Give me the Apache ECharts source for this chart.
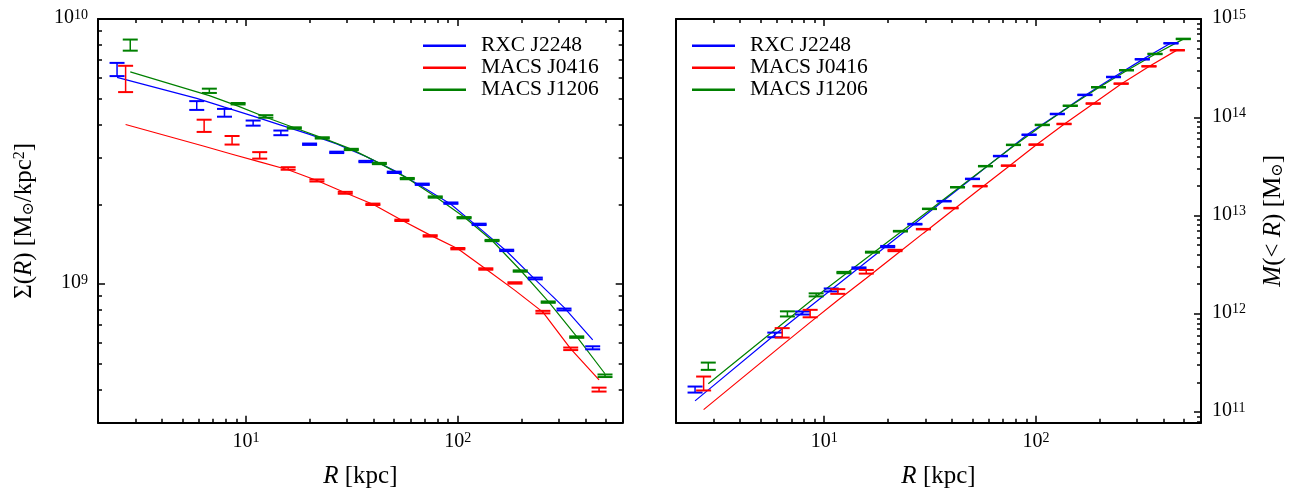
<!DOCTYPE html>
<html><head><meta charset="utf-8">
<script src="https://cdn.jsdelivr.net/npm/echarts@6/dist/echarts.min.js"></script>
<style>html,body{margin:0;padding:0;background:#fff}#c{width:1306px;height:489px}</style>
</head><body><div id="c"></div>
<script>
// ---------------- data ----------------
const clusterNames = ['RXC J2248', 'MACS J0416', 'MACS J1206'];
const clusterColors = ['#0000ff', '#ff0000', '#008000'];

// radii [kpc]
const radiusBlue  = [2.46, 5.85, 7.91, 10.8, 14.6, 19.95, 26.8, 36.8, 50.1, 67.9, 92.7, 126, 170, 232, 317, 433];
const radiusRed   = [2.70, 6.34, 8.59, 11.6, 15.8, 21.6, 29.4, 39.7, 54.4, 74.0, 100, 135.5, 186, 252, 341, 464];
const radiusGreen = [2.84, 6.71, 9.17, 12.4, 16.9, 22.9, 31.4, 42.6, 57.7, 78.2, 107, 145, 197, 267, 364, 495];

// surface density Sigma(R) [Msun/kpc^2]
const sigmaBlue      = [6.46e9, 4.72e9, 4.43e9, 4.05e9, 3.72e9, 3.37e9, 3.14e9, 2.90e9, 2.64e9, 2.38e9, 2.02e9, 1.68e9, 1.34e9, 1.05e9, 8.02e8, 5.75e8];
const sigmaBlueErr   = [3.7e8, 1.8e8, 1.5e8, 9e7, 7.5e7, 2e7, 1.9e7, 1.7e7, 1.6e7, 1.4e7, 1.2e7, 1e7, 8e6, 8e6, 6.5e6, 7.5e6];
const sigmaBlueModel = [6.02e9, 5.02e9, 4.65e9, 4.30e9, 3.98e9, 3.67e9, 3.38e9, 3.03e9, 2.68e9, 2.33e9, 2.00e9, 1.63e9, 1.33e9, 1.04e9, 8.17e8, 6.16e8];

const sigmaRed       = [5.98e9, 3.96e9, 3.49e9, 3.06e9, 2.73e9, 2.46e9, 2.21e9, 2.00e9, 1.74e9, 1.52e9, 1.36e9, 1.14e9, 1.01e9, 7.84e8, 5.70e8, 4.00e8];
const sigmaRedErr    = [6.8e8, 2.1e8, 1.3e8, 8.6e7, 3e7, 2.2e7, 1.8e7, 1.2e7, 1e7, 9e6, 8e6, 7e6, 6e6, 8.6e6, 6.3e6, 6.8e6];
const sigmaRedModel  = [4.00e9, 3.31e9, 3.09e9, 2.89e9, 2.70e9, 2.46e9, 2.21e9, 2.00e9, 1.74e9, 1.53e9, 1.36e9, 1.14e9, 9.47e8, 7.84e8, 5.70e8, 4.35e8];

const sigmaGreen      = [7.98e9, 5.36e9, 4.79e9, 4.29e9, 3.88e9, 3.56e9, 3.22e9, 2.85e9, 2.50e9, 2.13e9, 1.78e9, 1.46e9, 1.12e9, 8.55e8, 6.31e8, 4.51e8];
const sigmaGreenErr   = [3.85e8, 1.0e8, 3e7, 4.7e7, 2.3e7, 2e7, 1.8e7, 1.6e7, 1.4e7, 1.2e7, 1e7, 8e6, 6.5e6, 5e6, 4e6, 5e6];
const sigmaGreenModel = [6.32e9, 5.14e9, 4.69e9, 4.26e9, 3.89e9, 3.56e9, 3.23e9, 2.86e9, 2.51e9, 2.14e9, 1.79e9, 1.46e9, 1.13e9, 8.60e8, 6.34e8, 4.59e8];

// enclosed mass M(<R) [Msun]
const massBlue      = [1.70e11, 6.11e11, 1.02e12, 1.75e12, 2.92e12, 4.83e12, 8.17e12, 1.40e13, 2.36e13, 4.03e13, 6.64e13, 1.08e14, 1.69e14, 2.57e14, 3.89e14, 5.66e14];
const massBlueErr   = [1.2e10, 3.3e10, 3.6e10, 6.1e10, 4.7e10, 7.7e10, 6.5e10, 8.4e10, 1.4e11, 2.4e11, 4.0e11, 6.5e11, 1.0e12, 1.5e12, 2.3e12, 3.4e12];
const massBlueModel = [1.30e11, 6.12e11, 1.03e12, 1.76e12, 2.94e12, 5.02e12, 8.31e12, 1.43e13, 2.41e13, 4.05e13, 6.87e13, 1.07e14, 1.67e14, 2.55e14, 3.86e14, 5.69e14];

const massRed       = [1.98e11, 6.44e11, 1.01e12, 1.69e12, 2.68e12, 4.41e12, 7.27e12, 1.19e13, 1.99e13, 3.22e13, 5.27e13, 8.55e13, 1.38e14, 2.20e14, 3.30e14, 4.81e14];
const massRedErr    = [3.2e10, 7.1e10, 8.8e10, 9.3e10, 1.15e11, 7e10, 4.4e10, 7.1e10, 1.2e11, 1.9e11, 3.2e11, 5.1e11, 8.3e11, 1.3e12, 2.0e12, 2.9e12];
const massRedModel  = [1.06e11, 4.80e11, 8.18e11, 1.375e12, 2.30e12, 3.92e12, 6.62e12, 1.10e13, 1.87e13, 3.14e13, 5.23e13, 8.50e13, 1.37e14, 2.18e14, 3.28e14, 4.85e14];

const massGreen      = [2.94e11, 1.00e12, 1.56e12, 2.63e12, 4.24e12, 6.93e12, 1.17e13, 1.94e13, 3.18e13, 5.24e13, 8.36e13, 1.31e14, 2.02e14, 3.01e14, 4.41e14, 6.27e14];
const massGreenErr   = [2.5e10, 6e10, 5.5e10, 4.2e10, 5e10, 5.5e10, 7e10, 1.2e11, 1.9e11, 3.1e11, 5.0e11, 7.9e11, 1.2e12, 1.8e12, 2.6e12, 3.8e12];
const massGreenModel = [1.94e11, 8.69e11, 1.50e12, 2.47e12, 4.10e12, 6.76e12, 1.13e13, 1.87e13, 3.08e13, 5.07e13, 8.30e13, 1.30e14, 2.00e14, 2.98e14, 4.38e14, 6.24e14];

// axis ranges and ticks
const radiusRange = [2, 600];
const sigmaRange = [3e8, 1.000001e10];
const massRange = [7.8e10, 1.000001e15];
const radiusMajorTicks = [10, 100];
const radiusMinorTicks = [3, 4, 5, 6, 7, 8, 9, 20, 30, 40, 50, 60, 70, 80, 90, 200, 300, 400, 500];
const sigmaMajorTicks = [1e9, 1e10];
const sigmaMinorTicks = [4e8, 5e8, 6e8, 7e8, 8e8, 9e8, 2e9, 3e9, 4e9, 5e9, 6e9, 7e9, 8e9, 9e9];
const massMajorTicks = [1e11, 1e12, 1e13, 1e14, 1e15];
const massMinorTicks = [8e10, 9e10,
  2e11, 3e11, 4e11, 5e11, 6e11, 7e11, 8e11, 9e11,
  2e12, 3e12, 4e12, 5e12, 6e12, 7e12, 8e12, 9e12,
  2e13, 3e13, 4e13, 5e13, 6e13, 7e13, 8e13, 9e13,
  2e14, 3e14, 4e14, 5e14, 6e14, 7e14, 8e14, 9e14];

// ---------------- chart ----------------
const FONT = "'Liberation Serif','DejaVu Serif',serif";
const BLACK = '#000';
const zip3 = (a, b, c) => a.map((v, i) => c ? [v, b[i], c[i]] : [v, b[i]]);

const tickRich = {
  b: { fontFamily: FONT, fontSize: 20, color: BLACK, lineHeight: 20, padding: [4, 0, 0, 0], verticalAlign: 'bottom' },
  s: { fontFamily: FONT, fontSize: 14, color: BLACK, lineHeight: 14, verticalAlign: 'top' }
};
const powLabel = v => '{b|10}{s|' + Math.round(Math.log10(v)) + '}';
const NS = 25;
const nameRich = {
  n: { fontFamily: FONT, fontSize: NS, color: BLACK, lineHeight: NS, padding: [4, 0, 4, 0] },
  i: { fontFamily: FONT, fontSize: NS, color: BLACK, fontStyle: 'italic', lineHeight: NS, padding: [4, 0, 4, 0] },
  sub: { fontFamily: FONT, fontSize: 16, color: BLACK, lineHeight: 16, verticalAlign: 'bottom' },
  sup: { fontFamily: FONT, fontSize: 16, color: BLACK, lineHeight: 16, verticalAlign: 'top' }
};

function axisSet(gridIndex, range, major, minor, cfg) {
  const base = {
    type: 'log', logBase: 10, gridIndex, min: range[0], max: range[1],
    splitLine: { show: false }, axisLine: { show: false },
    axisLabel: { show: false }, axisTick: { show: false }
  };
  const line = { show: true, lineStyle: { color: BLACK, width: 2 } };
  const majorTick = { show: true, inside: true, length: 7, customValues: major, lineStyle: { color: BLACK, width: 1.5 } };
  const minorTick = { show: true, inside: true, length: 4, customValues: minor, lineStyle: { color: BLACK, width: 1.5 } };
  const out = [];
  cfg.forEach(c => {
    if (c.lineOnly) {
      out.push(Object.assign({}, base, { position: c.pos, axisLine: line }));
      return;
    }
    const maj = Object.assign({}, base, { position: c.pos, axisLine: line, axisTick: majorTick });
    if (c.labels) {
      maj.axisLabel = Object.assign({ show: true, customValues: major, formatter: powLabel, rich: tickRich }, c.labels);
    }
    if (c.name) {
      Object.assign(maj, c.name);
    }
    out.push(maj);
    out.push(Object.assign({}, base, { position: c.pos, axisTick: minorTick }));
  });
  return out;
}

const xName = {
  name: '{i|R}{n| [kpc]}', nameLocation: 'middle', nameGap: 41,
  nameTextStyle: { rich: nameRich }
};
const xAxes = [].concat(
  axisSet(0, radiusRange, radiusMajorTicks, radiusMinorTicks, [
    { pos: 'bottom', labels: { margin: 9 }, name: xName },
    { pos: 'top' }
  ]),
  axisSet(1, radiusRange, radiusMajorTicks, radiusMinorTicks, [
    { pos: 'bottom', labels: { margin: 9 }, name: xName },
    { pos: 'top' }
  ])
);
// x indices: grid0 -> 0 (bottom major), grid1 -> 4 (bottom major)
const yAxes = [].concat(
  axisSet(0, sigmaRange, sigmaMajorTicks, sigmaMinorTicks, [
    { pos: 'left', labels: { margin: 10, padding: [0, 0, 2, 0] },
      name: { name: '{n|Σ(}{i|R}{n|) [M}{sub|⊙}{n|/kpc}{sup|2}{n|]}', nameLocation: 'middle', nameGap: 61, nameRotate: 90,
              nameTextStyle: { rich: nameRich } } },
    { pos: 'right' }
  ]),
  axisSet(1, massRange, massMajorTicks, massMinorTicks, [
    { pos: 'right', labels: { margin: 11, padding: [0, 0, 2, 0] },
      name: { name: '{i|M}{n|(< }{i|R}{n|) [M}{sub|⊙}{n|]}', nameLocation: 'middle', nameGap: 60, nameRotate: 90,
              nameTextStyle: { rich: nameRich } } },
    { pos: 'left', lineOnly: true }
  ])
);
// y indices: grid0 -> 0 (left major), grid1 -> 4 (right major)

function errorRenderer(color) {
  return function (params, api) {
    const x = api.value(0), y = api.value(1), e = api.value(2);
    const top = api.coord([x, y + e]);
    const bot = api.coord([x, y - e]);
    const hw = 7.5;
    return {
      type: 'group',
      children: [
        { type: 'line', shape: { x1: top[0], y1: top[1], x2: bot[0], y2: bot[1] }, style: { stroke: color, lineWidth: 1.5 } },
        { type: 'line', shape: { x1: top[0] - hw, y1: top[1], x2: top[0] + hw, y2: top[1] }, style: { stroke: color, lineWidth: 2 } },
        { type: 'line', shape: { x1: bot[0] - hw, y1: bot[1], x2: bot[0] + hw, y2: bot[1] }, style: { stroke: color, lineWidth: 2 } }
      ]
    };
  };
}

const panels = [
  { x: 0, y: 0, radii: [radiusBlue, radiusRed, radiusGreen],
    vals: [sigmaBlue, sigmaRed, sigmaGreen], errs: [sigmaBlueErr, sigmaRedErr, sigmaGreenErr],
    models: [sigmaBlueModel, sigmaRedModel, sigmaGreenModel] },
  { x: 4, y: 4, radii: [radiusBlue, radiusRed, radiusGreen],
    vals: [massBlue, massRed, massGreen], errs: [massBlueErr, massRedErr, massGreenErr],
    models: [massBlueModel, massRedModel, massGreenModel] }
];

const series = [];
panels.forEach((p, pi) => {
  for (let k = 0; k < 3; k++) {
    series.push({
      name: clusterNames[k], type: 'line', xAxisIndex: p.x, yAxisIndex: p.y,
      data: zip3(p.radii[k], p.models[k]), showSymbol: false, symbol: 'none',
      lineStyle: { color: clusterColors[k], width: 1.2 }, itemStyle: { color: clusterColors[k] },
      z: 2, silent: true
    });
    series.push({
      name: clusterNames[k] + ' data ' + pi, type: 'custom', xAxisIndex: p.x, yAxisIndex: p.y,
      data: zip3(p.radii[k], p.vals[k], p.errs[k]), encode: { x: 0, y: 1 },
      renderItem: errorRenderer(clusterColors[k]), z: 3, silent: true
    });
  }
});

const legendBase = {
  orient: 'vertical', data: clusterNames, icon: 'rect', itemWidth: 43, itemHeight: 2.6,
  itemGap: 0, padding: 0, selectedMode: false, top: 34.7,
  itemStyle: { borderWidth: 0 },
  textStyle: { fontFamily: FONT, fontSize: 21.5, color: BLACK, lineHeight: 22, padding: [0, 0, 0, 10] }
};

const chart = echarts.init(document.getElementById('c'), null, { renderer: 'canvas' });
chart.setOption({
  animation: false,
  backgroundColor: '#fff',
  grid: [
    { left: 98, top: 19, width: 524.7, height: 403.7, containLabel: false, outerBoundsMode: 'none' },
    { left: 676, top: 19, width: 525, height: 403.7, containLabel: false, outerBoundsMode: 'none' }
  ],
  legend: [
    Object.assign({}, legendBase, { left: 423 }),
    Object.assign({}, legendBase, { left: 692 })
  ],
  xAxis: xAxes,
  yAxis: yAxes,
  series
});
</script>
</body></html>
